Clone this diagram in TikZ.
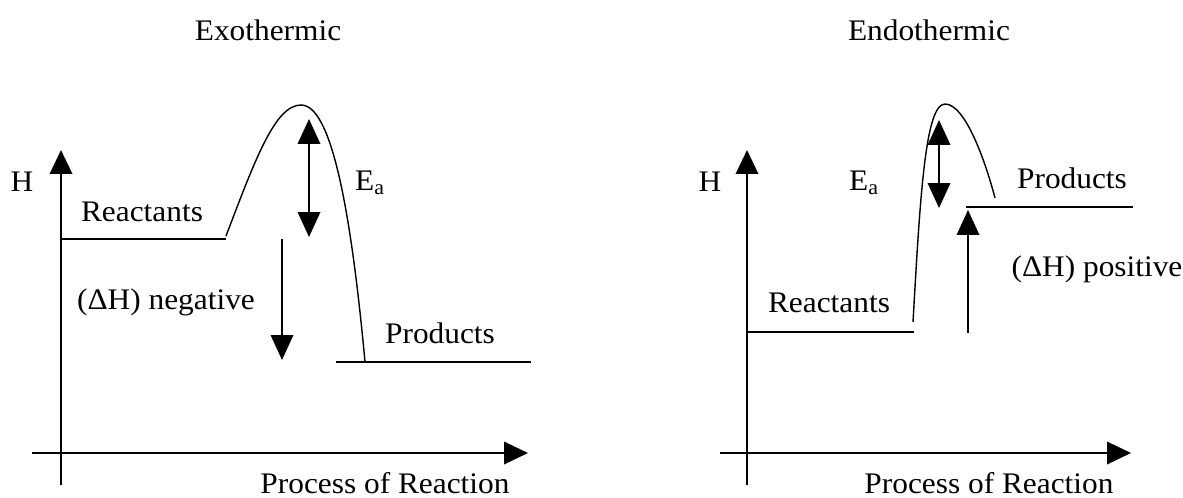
\documentclass[tikz,border=0pt]{standalone}
\usepackage{fontspec}
\setmainfont[FakeStretch=1.05]{Liberation Serif}
\usetikzlibrary{arrows.meta}
\begin{document}
\begin{tikzpicture}[x=0.02cm,y=-0.02cm,
  ax/.style={line width=1.1pt,-{Triangle[width=0.45cm,length=0.48cm]}},
  lvl/.style={line width=1.1pt},
  curve/.style={line width=0.8pt},
  dbl/.style={line width=1.1pt,{Triangle[width=0.45cm,length=0.5cm]}-{Triangle[width=0.45cm,length=0.5cm]}},
  one/.style={line width=1.1pt,-{Triangle[width=0.45cm,length=0.5cm]}},
  lbl/.style={font=\fontsize{17}{19}\selectfont,inner sep=0pt}]
\useasboundingbox (0,0) rectangle (1183,497);
% ---------- Exothermic ----------
\node[lbl] (t1) at (268,30) {Exothermic};
\coordinate (y1b) at (61,485);
\coordinate (y1t) at (61,150);
\coordinate (x1l) at (32,453);
\coordinate (x1r) at (528,453);
\draw[ax] (y1b) -- (y1t);
\draw[ax] (x1l) -- (x1r);
\node[lbl] (h1) at (22,182) {H};
\node[lbl,anchor=base] (px1) at (385,493) {Process of Reaction};
\coordinate (r1a) at (61,239);
\coordinate (r1b) at (226,239);
\draw[lvl] (r1a) -- (r1b);
\node[lbl] (rt1) at (142,212) {Reactants};
\coordinate (c1s) at (226,236);
\coordinate (c1p) at (301,105);
\coordinate (c1e) at (365,362);
\draw[curve] (c1s) .. controls (255,160) and (275,105) .. (c1p) .. controls (330,105) and (350,200) .. (c1e);
\coordinate (p1a) at (336,362);
\coordinate (p1b) at (531,362);
\draw[lvl] (p1a) -- (p1b);
\node[lbl] (pt1) at (440,333) {Products};
\coordinate (e1t) at (309,119);
\coordinate (e1b) at (309,237);
\draw[dbl] (e1b) -- (e1t);
\node[lbl] (ea1) at (370,183) {E\textsubscript{a}};
\coordinate (d1t) at (282,239);
\coordinate (d1b) at (282,360);
\draw[one] (d1t) -- (d1b);
\node[lbl] (dh1) at (166,302) {(ΔH) negative};
% ---------- Endothermic ----------
\node[lbl] (t2) at (929,30) {Endothermic};
\coordinate (y2b) at (747,485);
\coordinate (y2t) at (747,150);
\coordinate (x2l) at (720,453);
\coordinate (x2r) at (1131,453);
\draw[ax] (y2b) -- (y2t);
\draw[ax] (x2l) -- (x2r);
\node[lbl] (h2) at (710,182) {H};
\node[lbl,anchor=base] (px2) at (989,493) {Process of Reaction};
\coordinate (r2a) at (747,332);
\coordinate (r2b) at (914,332);
\draw[lvl] (r2a) -- (r2b);
\node[lbl] (rt2) at (829,303) {Reactants};
\coordinate (c2s) at (913,322);
\coordinate (c2p) at (945,104);
\coordinate (c2e) at (995,198);
\draw[curve] (c2s) .. controls (920,200) and (925,104) .. (c2p) .. controls (965,104) and (985,160) .. (c2e);
\coordinate (p2a) at (966,207);
\coordinate (p2b) at (1133,207);
\draw[lvl] (p2a) -- (p2b);
\node[lbl] (pt2) at (1072,178) {Products};
\coordinate (e2t) at (939,120);
\coordinate (e2b) at (939,208);
\draw[dbl] (e2b) -- (e2t);
\node[lbl] (ea2) at (864,183) {E\textsubscript{a}};
\coordinate (d2b) at (968,333);
\coordinate (d2t) at (968,210);
\draw[one] (d2b) -- (d2t);
\node[lbl] (dh2) at (1097,269) {(ΔH) positive};
\end{tikzpicture}
\end{document}
